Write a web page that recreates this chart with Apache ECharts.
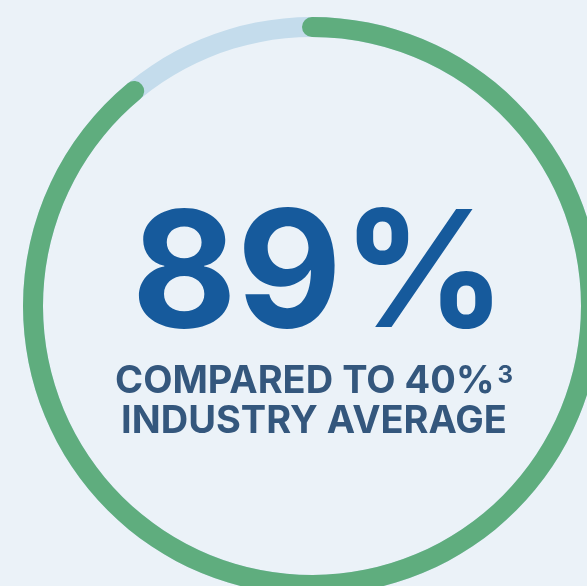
<!DOCTYPE html>
<html>
<head>
<meta charset="utf-8">
<script src="https://cdn.jsdelivr.net/npm/echarts@6/dist/echarts.min.js"></script>
<style>
  html, body { margin: 0; padding: 0; background: #ebf2f8; }
  #chart { width: 587px; height: 586px; }
</style>
</head>
<body>
<div id="chart"></div>
<script>
// Share of the headline metric, the industry benchmark and its footnote marker
const rateValue = [89];
const industryAverage = [40];
const footnoteMark = ['3'];
const captionLines = ['COMPARED TO', 'INDUSTRY AVERAGE'];

const chart = echarts.init(document.getElementById('chart'), null, { renderer: 'canvas' });

const caption =
  '{first|' + captionLines[0] + ' ' + industryAverage[0] + '%}{sup|' + footnoteMark[0] + '}\n' +
  '{second|' + captionLines[1] + '}';

const captionStyle = {
  fontSize: 38,
  fontFamily: 'Inter',
  fontWeight: 'bold',
  color: '#34577d',
  lineHeight: 40
};

chart.setOption({
  backgroundColor: '#ebf2f8',
  series: [{
    type: 'gauge',
    center: [312, 306],
    radius: 289,
    startAngle: 90,
    endAngle: -270,
    min: 0,
    max: 100,
    pointer: { show: false },
    axisTick: { show: false },
    splitLine: { show: false },
    axisLabel: { show: false },
    axisLine: {
      roundCap: true,
      lineStyle: { width: 20, color: [[1, '#c4dcec']] }
    },
    progress: {
      show: true,
      roundCap: true,
      width: 20,
      itemStyle: { color: '#5fad7e' }
    },
    anchor: { show: false },
    title: {
      show: true,
      offsetCenter: [2, 96],
      color: '#34577d',
      fontFamily: 'Inter',
      fontWeight: 'bold',
      rich: {
        first: Object.assign({ letterSpacing: 1.6 }, captionStyle),
        second: Object.assign({ letterSpacing: 1 }, captionStyle),
        sup: {
          fontSize: 24,
          fontFamily: 'Inter',
          fontWeight: 'bold',
          color: '#34577d',
          verticalAlign: 'top',
          lineHeight: 24,
          padding: [2, 0, 0, 3]
        }
      }
    },
    detail: {
      valueAnimation: false,
      offsetCenter: [7, -28],
      formatter: '{value}%',
      color: '#165a9c',
      fontFamily: 'Inter',
      fontWeight: 'bold',
      fontSize: 162,
      lineHeight: 162,
      letterSpacing: -5
    },
    data: [{ value: rateValue[0], name: caption }]
  }],
  animation: false
});
</script>
</body>
</html>
